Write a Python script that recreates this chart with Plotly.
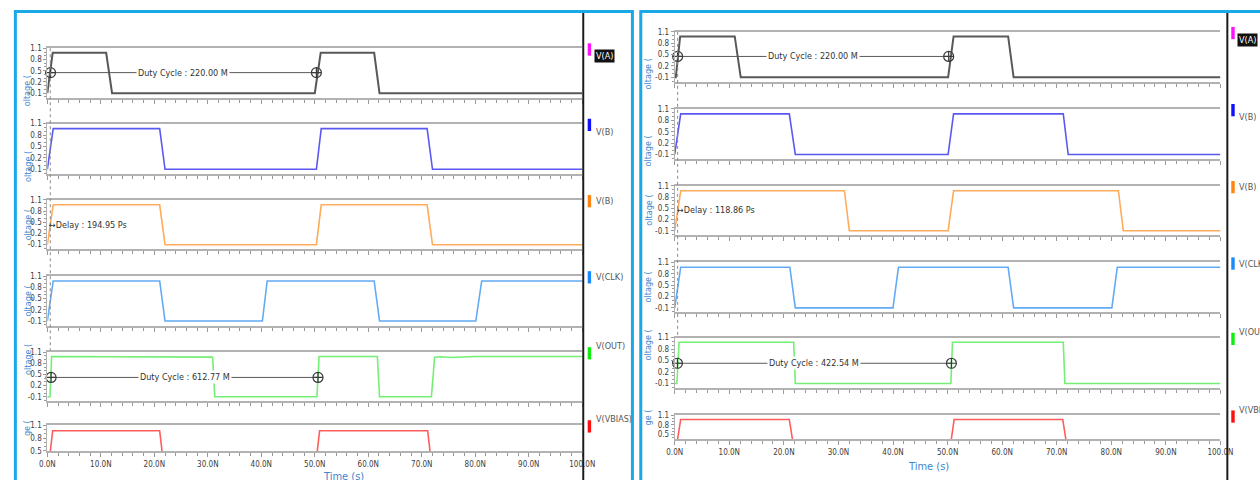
import plotly.graph_objects as go

W, H = 1260, 480

# ---------------- data ----------------
time_tickvals = [0, 10, 20, 30, 40, 50, 60, 70, 80, 90, 100]
time_ticktext = ["0.0N", "10.0N", "20.0N", "30.0N", "40.0N", "50.0N",
                 "60.0N", "70.0N", "80.0N", "90.0N", "100.0N"]
volt_tickvals = [-0.1, 0.2, 0.5, 0.8, 1.1]
volt_ticktext = ["-0.1", "0.2", "0.5", "0.8", "1.1"]
vbias_tickvals = [0.5, 0.8, 1.1]
vbias_ticktext = ["0.5", "0.8", "1.1"]

signal_names = ["V(A)", "V(B)", "V(B)", "V(CLK)", "V(OUT)", "V(VBIAS)"]
right_names = ["V(A)", "V(B)", "V(B)", "V(CLK)", "V(OUT)", "V(VBIAS)"]

# left panel waveforms (time in ns, volts)
lA_t = [0, 1.0, 11.0, 12.1, 50.0, 51.1, 61.1, 62.1, 100]
lA_v = [-0.1, 0.98, 0.98, -0.1, -0.1, 0.98, 0.98, -0.1, -0.1]
lB_t = [0, 1.1, 21.0, 22.0, 50.3, 51.2, 71.0, 72.0, 100]
lB_v = [-0.1, 0.97, 0.97, -0.1, -0.1, 0.97, 0.97, -0.1, -0.1]
lB2_t = [0, 1.1, 21.0, 22.0, 50.3, 51.2, 71.0, 72.0, 100]
lB2_v = [-0.1, 0.97, 0.97, -0.1, -0.1, 0.97, 0.97, -0.1, -0.1]
lCLK_t = [0, 1.1, 21.0, 22.0, 40.2, 41.1, 61.1, 62.1, 80.1, 81.2, 100]
lCLK_v = [-0.1, 0.97, 0.97, -0.1, -0.1, 0.97, 0.97, -0.1, -0.1, 0.97, 0.97]
lOUT_t = [0, 0.5, 0.8, 22.0, 22.6, 30.9, 31.3, 50.4, 50.8, 61.7, 62.1,
          71.8, 72.4, 73.5, 75.5, 77.5, 80.0, 100]
lOUT_v = [-0.1, -0.1, 0.98, 0.98, 0.965, 0.965, -0.1, -0.1, 0.98, 0.98, -0.1,
          -0.1, 0.96, 0.975, 0.955, 0.96, 0.98, 0.98]
lVB_t = [0, 0.1, 1.0, 21.0, 21.9, 50.0, 50.9, 71.1, 72.0, 100]
lVB_v = [0, 0, 0.97, 0.97, 0, 0, 0.97, 0.97, 0, 0]

# right panel waveforms
rA_t = [0, 0.2, 1.0, 11.0, 12.1, 50.1, 51.1, 61.1, 62.1, 100]
rA_v = [-0.1, -0.1, 0.98, 0.98, -0.1, -0.1, 0.98, 0.98, -0.1, -0.1]
rB_t = [0, 1.1, 21.0, 22.1, 50.1, 51.1, 71.2, 72.1, 100]
rB_v = [-0.1, 0.97, 0.97, -0.1, -0.1, 0.97, 0.97, -0.1, -0.1]
rB2_t = [0, 1.1, 31.1, 32.0, 50.1, 51.1, 81.3, 82.2, 100]
rB2_v = [-0.1, 0.97, 0.97, -0.1, -0.1, 0.97, 0.97, -0.1, -0.1]
rCLK_t = [0, 1.1, 21.1, 22.1, 40.0, 41.0, 61.1, 62.1, 80.1, 81.1, 100]
rCLK_v = [-0.1, 0.97, 0.97, -0.1, -0.1, 0.97, 0.97, -0.1, -0.1, 0.97, 0.97]
rOUT_t = [0, 0.4, 0.8, 21.8, 22.1, 50.6, 50.9, 71.2, 71.5, 100]
rOUT_v = [-0.1, -0.1, 0.98, 0.98, -0.1, -0.1, 0.98, 0.98, -0.1, -0.1]
rVB_t = [0, 0.2, 1.1, 21.0, 21.9, 50.4, 51.2, 71.1, 72.0, 100]
rVB_v = [0, 0, 0.97, 0.97, 0, 0, 0.97, 0.97, 0, 0]

# measurements
dutyL_A_t = [0.6, 50.3]
dutyL_A_level = 0.45
dutyL_A_text = "Duty Cycle : 220.00 M"
dutyL_OUT_t = [0.7, 50.6]
dutyL_OUT_level = 0.42
dutyL_OUT_text = "Duty Cycle : 612.77 M"
dutyR_A_t = [0.54, 50.2]
dutyR_A_level = 0.45
dutyR_A_text = "Duty Cycle : 220.00 M"
dutyR_OUT_t = [0.5, 50.7]
dutyR_OUT_level = 0.43
dutyR_OUT_text = "Duty Cycle : 422.54 M"
delayL_text = "Delay : 194.95 Ps"
delayR_text = "Delay : 118.86 Ps"
cursorL_t = 0.55
cursorR_t = 0.54

# ---------------- styles / layout ----------------
trace_colors = ["#585858", "#5a5af2", "#ffab5c", "#62aaf5", "#74ee74", "#ff5c5c"]
swatch_colors = ["#ff10ff", "#1010ff", "#ff8410", "#1a88ff", "#10ee10", "#ff1010"]
FONT = "DejaVu Sans Condensed, Liberation Sans Narrow, Roboto, sans-serif"
AXC = "#b2b2b2"
TICKC = "#9a9a9a"
BLUE_BORDER = "#1aa8e8"
TITLE_BLUE = "#3d86cf"


def px(x):
    return x / W


def py(y):
    return 1 - y / H


PANELS = [
    dict(x0=40, x1=584, tops=[45, 121.7, 199.3, 276.7, 354, 428.3],
         bots=[95.3, 172.7, 249.3, 327, 404, 455],
         lo=[-0.22, -0.22, -0.22, -0.22, -0.22, 0.49],
         sep=585, border=(7.5, 635), legx=589.5, labx=596,
         ytitle_x=13, cursor=cursorL_t, cursor_end=352,
         time_title=(318, 472),
         series=[(lA_t, lA_v), (lB_t, lB_v), (lB2_t, lB2_v),
                 (lCLK_t, lCLK_v), (lOUT_t, lOUT_v), (lVB_t, lVB_v)],
         duty=[(0, dutyL_A_t, dutyL_A_level, dutyL_A_text),
               (4, dutyL_OUT_t, dutyL_OUT_level, dutyL_OUT_text)],
         delay=(delayL_text, 0.0, 0.425), names=signal_names),
    dict(x0=678, x1=1233, tops=[28.3, 106.7, 185, 262.7, 339.3, 418.3],
         bots=[79, 157.5, 235, 313.5, 390.5, 442.7],
         lo=[-0.216, -0.216, -0.216, -0.216, -0.216, 0.35],
         sep=1240, border=(643.5, 1300), legx=1244, labx=1250,
         ytitle_x=651, cursor=cursorR_t, cursor_end=338,
         time_title=(959, 462),
         series=[(rA_t, rA_v), (rB_t, rB_v), (rB2_t, rB2_v),
                 (rCLK_t, rCLK_v), (rOUT_t, rOUT_v), (rVB_t, rVB_v)],
         duty=[(0, dutyR_A_t, dutyR_A_level, dutyR_A_text),
               (4, dutyR_OUT_t, dutyR_OUT_level, dutyR_OUT_text)],
         delay=(delayR_text, 0.0, 0.455), names=right_names),
]

fig = go.Figure()
layout = dict(width=W, height=H, margin=dict(l=0, r=0, t=0, b=0),
              paper_bgcolor="white", plot_bgcolor="white", showlegend=False)
shapes = []
annotations = []

for p_idx, P in enumerate(PANELS):
    for i in range(6):
        k = p_idx * 6 + i + 1
        sfx = "" if k == 1 else str(k)
        xref, yref = "x" + sfx, "y" + sfx
        is_vb = (i == 5)
        layout["xaxis" + sfx] = dict(
            domain=[px(P["x0"]), px(P["x1"])], range=[0, 100], anchor=yref,
            showline=True, mirror=True, linecolor=AXC, linewidth=2,
            ticks="outside", ticklen=4, tickcolor=TICKC, tickwidth=1,
            tickmode="array", tickvals=time_tickvals, ticktext=time_ticktext,
            showticklabels=(i == 5), showgrid=False, zeroline=False,
            tickfont=dict(family=FONT, size=8, color="#404040"),
            minor=dict(dtick=2, tick0=0, ticks="outside", ticklen=3,
                       tickcolor=TICKC, showgrid=False),
            fixedrange=True)
        layout["yaxis" + sfx] = dict(
            domain=[py(P["bots"][i]), py(P["tops"][i])],
            range=[P["lo"][i], 1.1], anchor=xref,
            showline=True, linecolor=AXC, linewidth=1,
            ticks="outside", ticklen=3, tickcolor=TICKC,
            tickmode="array",
            tickvals=vbias_tickvals if is_vb else volt_tickvals,
            ticktext=vbias_ticktext if is_vb else volt_ticktext,
            showgrid=False, zeroline=False,
            tickfont=dict(family=FONT, size=8, color="#404040"),
            minor=dict(dtick=0.1, tick0=-0.1, ticks="outside", ticklen=2,
                       tickcolor=TICKC, showgrid=False),
            fixedrange=True)

        t, v = P["series"][i]
        fig.add_trace(go.Scatter(x=t, y=v, mode="lines", xaxis=xref, yaxis=yref,
                                 line=dict(color=trace_colors[i],
                                           width=2 if i == 0 else 1.6),
                                 hoverinfo="skip"))

        # y axis title (clipped look)
        ymid = (P["tops"][i] + P["bots"][i]) / 2
        annotations.append(dict(
            x=px(P["ytitle_x"]), y=py(ymid), xref="paper", yref="paper",
            text="ge (" if is_vb else "oltage (", textangle=-90,
            showarrow=False, font=dict(family=FONT, size=9, color=TITLE_BLUE)))

        # legend swatch + label
        top = P["tops"][i]
        shapes.append(dict(type="rect", xref="paper", yref="paper",
                           x0=px(P["legx"]), x1=px(P["legx"] + 3.5),
                           y0=py(top + 7.5), y1=py(top - 5),
                           fillcolor=swatch_colors[i], line=dict(width=0)))
        lab = dict(x=px(P["labx"]), y=py(top + 1.2), xref="paper", yref="paper",
                   text=P["names"][i], showarrow=False, xanchor="left",
                   font=dict(family=FONT, size=9, color="#555555"))
        if i == 0:
            lab["bgcolor"] = "#111111"
            lab["font"] = dict(family=FONT, size=9, color="white")
        annotations.append(lab)

    # duty-cycle measurements
    for (i, tt, lvl, txt) in P["duty"]:
        k = p_idx * 6 + i + 1
        sfx = "" if k == 1 else str(k)
        fig.add_trace(go.Scatter(
            x=tt, y=[lvl, lvl], mode="lines+markers",
            xaxis="x" + sfx, yaxis="y" + sfx,
            line=dict(color="#5a5a5a", width=1),
            marker=dict(symbol="circle-cross-open", size=10, color="#3a3a3a",
                        line=dict(width=1.2)),
            hoverinfo="skip", cliponaxis=False))
        annotations.append(dict(
            x=(tt[0] + tt[1]) / 2, y=lvl, xref="x" + sfx, yref="y" + sfx,
            text=txt, showarrow=False, bgcolor="white",
            font=dict(family=FONT, size=9, color="#333333")))

    # delay measurement
    k = p_idx * 6 + 3
    dtxt, dt, dlvl = P["delay"]
    annotations.append(dict(
        x=dt, y=dlvl, xref="x" + str(k), yref="y" + str(k),
        text="↔" + dtxt, showarrow=False, xanchor="left",
        font=dict(family=FONT, size=9, color="#333333")))

    # dashed cursor
    k1 = "x" if p_idx == 0 else "x7"
    shapes.append(dict(type="line", xref=k1, yref="paper",
                       x0=P["cursor"], x1=P["cursor"],
                       y0=py(P["tops"][0]), y1=py(P["cursor_end"]),
                       line=dict(color="#8a8a8a", width=1, dash="3px,3px")))

    # separator
    shapes.append(dict(type="line", xref="paper", yref="paper",
                       x0=px(P["sep"]), x1=px(P["sep"]), y0=py(7), y1=py(490),
                       line=dict(color="#1c1c1c", width=2)))
    # panel border
    bx0, bx1 = P["border"]
    shapes.append(dict(type="rect", xref="paper", yref="paper",
                       x0=px(bx0), x1=px(bx1), y0=py(520), y1=py(7.5),
                       line=dict(color=BLUE_BORDER, width=3),
                       fillcolor="rgba(0,0,0,0)"))
    # time axis title
    tx, ty = P["time_title"]
    annotations.append(dict(x=px(tx), y=py(ty), xref="paper", yref="paper",
                            text="Time (s)", showarrow=False, yanchor="top",
                            font=dict(family=FONT, size=11, color=TITLE_BLUE)))

layout["shapes"] = shapes
layout["annotations"] = annotations
fig.update_layout(**layout)
fig.write_html(
    "out.html",
    config={"displayModeBar": False},
    post_script="document.body.style.margin='0';document.body.style.overflow='hidden';",
)
